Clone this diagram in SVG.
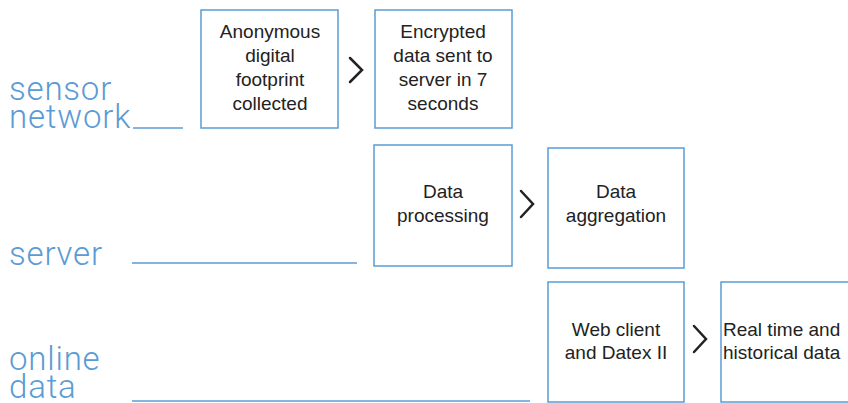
<svg xmlns="http://www.w3.org/2000/svg" width="848" height="403" viewBox="0 0 848 403">
<style>
.box{fill:#fff;stroke:#5b9bd5;stroke-width:1.5}
.t{font-family:"Liberation Sans",Arial,sans-serif;font-size:19px;fill:#222;text-anchor:middle}
.lab{font-family:Roboto,"Liberation Sans",sans-serif;font-weight:300;font-size:33px;letter-spacing:0.8px;fill:#5b9bd5}
.rule{stroke:#5b9bd5;stroke-width:1.5;fill:none}
.chev{fill:none;stroke:#222;stroke-width:2.5;stroke-linecap:round;stroke-linejoin:miter}
</style>
<rect width="848" height="403" fill="#fff"/>
<g id="labels">
<text class="lab" x="9" y="100">sensor</text>
<text class="lab" x="9" y="128">network</text>
<text class="lab" x="9" y="265">server</text>
<text class="lab" x="9" y="370">online</text>
<text class="lab" x="9" y="398">data</text>
<line class="rule" x1="133" y1="128" x2="183" y2="128"/>
<line class="rule" x1="132" y1="263" x2="357" y2="263"/>
<line class="rule" x1="132" y1="401" x2="530" y2="401"/>
</g>
<g id="n1"><rect class="box" x="201" y="10" width="137" height="118"/>
<text class="t"><tspan x="270" y="38">Anonymous</tspan><tspan x="270" y="62">digital</tspan><tspan x="270" y="86">footprint</tspan><tspan x="270" y="110">collected</tspan></text></g>
<g id="n2"><rect class="box" x="375" y="10" width="137" height="118"/>
<text class="t"><tspan x="443" y="38">Encrypted</tspan><tspan x="443" y="62">data sent to</tspan><tspan x="443" y="86">server in 7</tspan><tspan x="443" y="110">seconds</tspan></text></g>
<g id="n3"><rect class="box" x="374" y="145" width="138" height="121"/>
<text class="t"><tspan x="443" y="198">Data</tspan><tspan x="443" y="222">processing</tspan></text></g>
<g id="n4"><rect class="box" x="548" y="148" width="136" height="120"/>
<text class="t"><tspan x="616" y="198">Data</tspan><tspan x="616" y="222">aggregation</tspan></text></g>
<g id="n5"><rect class="box" x="548" y="282" width="136" height="120"/>
<text class="t"><tspan x="616" y="336">Web client</tspan><tspan x="616" y="359">and Datex II</tspan></text></g>
<g id="n6"><rect class="box" x="721" y="282" width="140" height="120"/>
<text class="t" style="text-anchor:start"><tspan x="723" y="336">Real time and</tspan><tspan x="723" y="359">historical data</tspan></text></g>
<g id="connectors">
<polyline class="chev" points="350,58 362,70 350,82"/>
<polyline class="chev" points="521,191 533,204 521,217"/>
<polyline class="chev" points="694,326 706,339 694,352"/>
</g>
</svg>
